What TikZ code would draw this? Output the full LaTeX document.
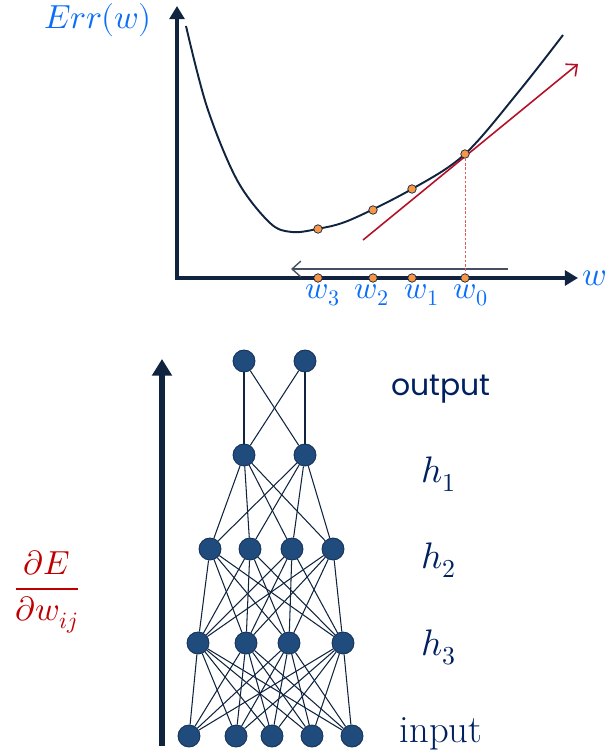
\documentclass[tikz,border=0pt]{standalone}
\usepackage{fontspec}
\usepackage{unicode-math}
\setmathfont{Latin Modern Math}
\newfontfamily\outfont{Poppins}
\usetikzlibrary{shapes, positioning, arrows.meta, calc}
\definecolor{navy}{RGB}{16,36,64}
\definecolor{textnavy}{RGB}{0,32,96}
\definecolor{wblue}{RGB}{10,110,250}
\definecolor{tanred}{RGB}{180,16,40}
\definecolor{dashred}{RGB}{230,90,90}
\definecolor{fracred}{RGB}{192,0,0}
\definecolor{neuronfill}{RGB}{31,75,125}
\definecolor{neuronedge}{RGB}{22,50,88}
\definecolor{dotfill}{RGB}{247,150,70}
\definecolor{stepgray}{RGB}{70,80,100}

\begin{document}
\begin{tikzpicture}[x=0.02cm, y=-0.02cm]
\tikzset{neuron/.style={circle, draw=neuronedge, fill=neuronfill, line width=0.5pt, minimum size=0.44cm, inner sep=0pt},
  wdot/.style={circle, draw=navy, fill=dotfill, line width=0.4pt, minimum size=0.17cm, inner sep=0pt},
  link/.style={draw=navy, line width=0.6pt},
  wlab/.style={text=wblue, anchor=base, font=\fontsize{18}{21}\selectfont},
  layerlab/.style={text=textnavy, anchor=base, font=\fontsize{21}{25}\selectfont}}
\useasboundingbox (0,0) rectangle (606,753);

\coordinate (origin) at (177,278);
\coordinate (ytip) at (177,6);
\coordinate (xtip) at (578,278);
\draw[navy, line width=2.8pt, line join=miter, {Triangle[length=7.5pt, width=8.5pt]}-{Triangle[length=7.5pt, width=8.5pt]}] (ytip) -- (origin) -- (xtip);
\node[text=wblue, anchor=base, font=\fontsize{19}{22}\selectfont] (errlab) at (98,29) {$Err(w)$};
\node[text=wblue, anchor=base, font=\fontsize{19}{22}\selectfont] (wlab) at (594,285) {$w$};

\draw[navy, line width=1.1pt] plot[smooth, tension=0.55] coordinates {(186,26) (207,107) (237,180) (270,223) (292,232) (317,229) (350,220) (412,189) (465,154) (520,90) (563,35)};

\coordinate (tanstart) at (363,240);
\coordinate (tanend) at (578,64);
\draw[tanred, line width=0.9pt, -{Straight Barb[length=5pt, width=9pt]}] (tanstart) -- (tanend);

\coordinate (stepstart) at (508,269);
\coordinate (stepend) at (291,269);
\draw[stepgray, line width=0.8pt, -{Straight Barb[length=5pt, width=9pt]}] (stepstart) -- (stepend);

\foreach \x [count=\i from 0] in {465,412,373,318} {
  \node[wdot] (a\i) at (\x,278) {};
}
\foreach \x/\y [count=\i from 0] in {465/154,412/189,373/210,318/229} {
  \node[wdot] (p\i) at (\x,\y) {};
}
\draw[dashred, line width=0.5pt, dash pattern=on 1.5pt off 1pt] (p0) -- (a0);
\foreach \x [count=\i from 0] in {471,422,372,323} {
  \node[wlab] (l\i) at (\x,298) {$w_\i$};
}

\foreach \x [count=\i] in {244,305} \node[neuron] (o\i) at (\x,361) {};
\foreach \x [count=\i] in {244,305} \node[neuron] (ha\i) at (\x,455) {};
\foreach \x [count=\i] in {210,250,292,333} \node[neuron] (hb\i) at (\x,549) {};
\foreach \x [count=\i] in {198,246,289,343} \node[neuron] (hc\i) at (\x,643) {};
\foreach \x [count=\i] in {189,236,272,312,352} \node[neuron] (x\i) at (\x,736) {};

\foreach \i in {1,2} \foreach \j in {1,2} \draw[link] (o\i) -- (ha\j);
\foreach \i in {1,2} \foreach \j in {1,...,4} \draw[link] (ha\i) -- (hb\j);
\foreach \i in {1,...,4} \foreach \j in {1,...,4} \draw[link] (hb\i) -- (hc\j);
\foreach \i in {1,...,4} \foreach \j in {1,...,5} \draw[link] (hc\i) -- (x\j);

\coordinate (gradbot) at (162,746);
\coordinate (gradtop) at (162,359);
\draw[navy, line width=3.4pt, -{Triangle[length=9.5pt, width=11pt]}] (gradbot) -- (gradtop);

\node[text=textnavy, anchor=base, font=\outfont\fontsize{17}{20}\selectfont] (outlab) at (441,395) {output};
\node[layerlab] (h1lab) at (439,482) {$h_1$};
\node[layerlab] (h2lab) at (439,568) {$h_2$};
\node[layerlab] (h3lab) at (439,655) {$h_3$};
\node[text=textnavy, anchor=base, font=\fontsize{22}{26}\selectfont] (inlab) at (441,742) {input};

\node[text=fracred, font=\fontsize{19}{22}\selectfont] (grad) at (47,592) {$\displaystyle\frac{\partial E}{\partial w_{ij}}$};
\end{tikzpicture}
\end{document}
